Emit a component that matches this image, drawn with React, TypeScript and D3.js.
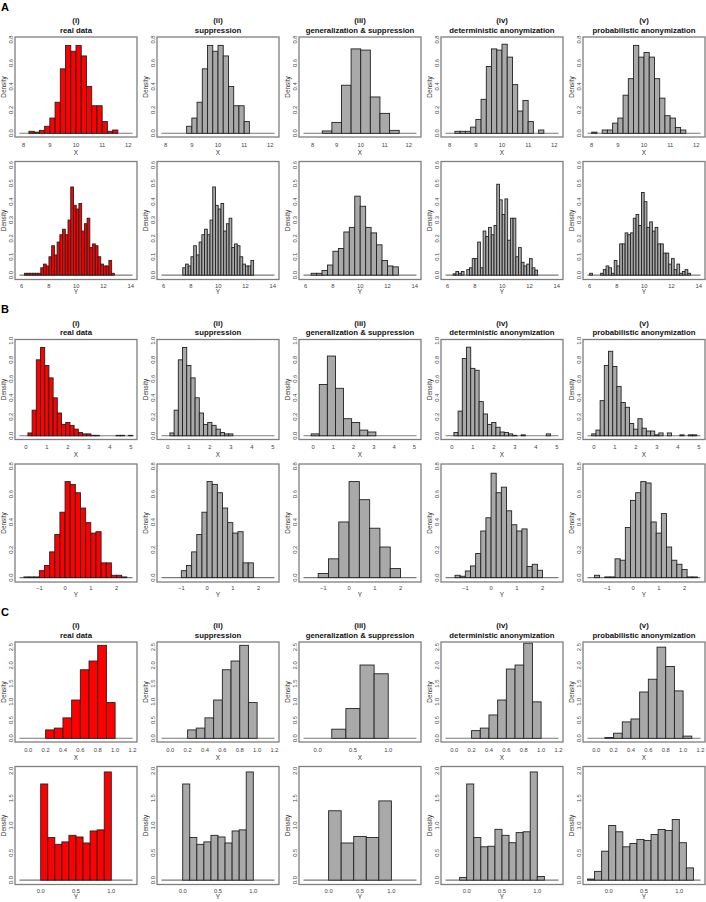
import React from "react";
import * as d3 from "d3";

// column headers
const numerals = ["(i)", "(ii)", "(iii)", "(iv)", "(v)"];
const methods = [
  "real data",
  "suppression",
  "generalization & suppression",
  "deterministic anonymization",
  "probabilistic anonymization",
];

// ---------- A : X ----------
const aXTicks = [8, 9, 10, 11, 12];
const aXLim = [7.84, 12.16];
const aXGenLim = [7.62, 12.32];
const aXDensTicks = [0, 0.2, 0.4, 0.6, 0.8];
const aXDensMax = 0.79;
const aXStart = [8.2, 8.8, 8.4, 8.2, 8.0];
const aXWidth = [0.2, 0.2, 0.4, 0.2, 0.2];
const aXReal = [0.017, 0.01, 0.025, 0.06, 0.13, 0.265, 0.55, 0.75, 0.7, 0.75, 0.66, 0.4, 0.235, 0.235, 0.1, 0.017, 0.028];
const aXSupp = [0.06, 0.13, 0.265, 0.55, 0.75, 0.7, 0.75, 0.66, 0.4, 0.235, 0.235, 0.1];
const aXGen = [0.02, 0.093, 0.41, 0.72, 0.71, 0.31, 0.17, 0.025];
const aXDet = [0.017, 0.017, 0.017, 0.053, 0.118, 0.29, 0.57, 0.72, 0.71, 0.76, 0.65, 0.415, 0.19, 0.28, 0.1, 0, 0.028];
const aXProb = [0.01, 0, 0.028, 0.028, 0.087, 0.13, 0.325, 0.466, 0.75, 0.65, 0.69, 0.65, 0.466, 0.3, 0.15, 0.13, 0.05, 0.028];

// ---------- A : Y ----------
const aYTicks = [6, 8, 10, 12, 14];
const aYLim = [5.84, 14.13];
const aYGenLim = [5.84, 14.13];
const aYDensTicks = [0, 0.1, 0.2, 0.3, 0.4, 0.5, 0.6];
const aYDensMax = 0.595;
const aYStart = [6.2, 7.4, 6.4, 6.4, 6.0];
const aYWidth = [0.2, 0.2, 0.4, 0.2, 0.2];
const aYReal = [0.01, 0.01, 0.01, 0.01, 0.01, 0.01, 0.04, 0.06, 0.05, 0.1, 0.16, 0.11, 0.18, 0.22, 0.25, 0.22, 0.3, 0.48, 0.38, 0.36, 0.39, 0.24, 0.28, 0.31, 0.15, 0.17, 0.16, 0.1, 0.06, 0.05, 0.05, 0.08, 0.01];
const aYSupp = [0.04, 0.06, 0.05, 0.1, 0.16, 0.11, 0.18, 0.22, 0.25, 0.22, 0.3, 0.48, 0.38, 0.36, 0.39, 0.24, 0.28, 0.31, 0.15, 0.17, 0.16, 0.1, 0.06, 0.05, 0.05, 0.08];
const aYGen = [0.01, 0.01, 0.025, 0.055, 0.13, 0.145, 0.235, 0.26, 0.43, 0.375, 0.26, 0.23, 0.165, 0.08, 0.05, 0.045];
const aYDet = [0.007, 0.02, 0.01, 0.02, 0, 0.03, 0.04, 0.09, 0.09, 0.18, 0.04, 0.24, 0.21, 0.26, 0.22, 0.27, 0.495, 0.41, 0.33, 0.415, 0.19, 0.31, 0.31, 0.1, 0.15, 0.07, 0.05, 0.06, 0.09, 0.04, 0.027];
const aYProb = [0.01, 0, 0, 0, 0.01, 0.03, 0.05, 0.04, 0.01, 0.08, 0.05, 0.17, 0.17, 0.23, 0.22, 0.23, 0.31, 0.33, 0.27, 0.45, 0.4, 0.26, 0.29, 0.24, 0.26, 0.17, 0.17, 0.12, 0.12, 0.06, 0.09, 0.03, 0.06, 0.01, 0.02, 0.03, 0.01];

// ---------- B : X ----------
const bXTicks = [0, 1, 2, 3, 4, 5];
const bXLim = [-0.3, 5.08];
const bXGenLim = [-0.48, 5.11];
const bXDensTicks = [0, 0.2, 0.4, 0.6, 0.8, 1.0];
const bXDensMax = 0.975;
const bXStart = [0.1, 0.1, -0.1, 0.1, -0.1];
const bXWidth = [0.2, 0.2, 0.4, 0.2, 0.2];
const bXReal = [0.03, 0.27, 0.8, 0.93, 0.74, 0.61, 0.4, 0.24, 0.12, 0.14, 0.11, 0.07, 0.035, 0.02, 0.02, 0.005, 0.005, 0, 0, 0, 0, 0.005, 0.005, 0, 0.005];
const bXSupp = [0.03, 0.27, 0.8, 0.93, 0.74, 0.61, 0.4, 0.24, 0.12, 0.14, 0.11, 0.07, 0.035, 0.02, 0.02];
const bXGen = [0.02, 0.54, 0.84, 0.5, 0.18, 0.14, 0.06, 0.04];
const bXDet = [0.035, 0.26, 0.815, 0.933, 0.71, 0.69, 0.36, 0.23, 0.12, 0.14, 0.09, 0.04, 0.035, 0.02, 0.005, 0, 0.01, 0, 0, 0, 0, 0, 0.02];
const bXProb = [0.02, 0.06, 0.37, 0.74, 0.89, 0.73, 0.52, 0.35, 0.3, 0.13, 0.07, 0.18, 0.08, 0.05, 0.05, 0.01, 0.03, 0, 0.03, 0, 0, 0.01, 0, 0.01, 0.01];

// ---------- B : Y ----------
const bYTicks = [-1, 0, 1, 2];
const bYLim = [-1.77, 2.62];
const bYGenLim = [-1.77, 2.62];
const bYDensTicks = [0, 0.2, 0.4, 0.6, 0.8];
const bYDensMax = 0.785;
const bYStart = [-1.6, -1.0, -1.2, -1.4, -1.5];
const bYWidth = [0.2, 0.2, 0.4, 0.2, 0.2];
const bYReal = [0.005, 0.005, 0.005, 0.05, 0.087, 0.185, 0.31, 0.47, 0.69, 0.67, 0.61, 0.5, 0.395, 0.32, 0.33, 0.106, 0.106, 0.017, 0.017, 0.005];
const bYSupp = [0.05, 0.087, 0.185, 0.31, 0.47, 0.69, 0.67, 0.61, 0.5, 0.395, 0.32, 0.33, 0.106, 0.106];
const bYGen = [0.03, 0.135, 0.4, 0.69, 0.56, 0.355, 0.22, 0.065];
const bYDet = [0.017, 0.01, 0.048, 0.084, 0.173, 0.335, 0.43, 0.75, 0.61, 0.65, 0.48, 0.38, 0.335, 0.35, 0.08, 0.096, 0.053];
const bYProb = [0.017, 0, 0.005, 0.005, 0.135, 0.125, 0.36, 0.555, 0.61, 0.69, 0.68, 0.4, 0.32, 0.46, 0.22, 0.125, 0.096, 0.058, 0.005, 0.005];

// ---------- C : X ----------
const cXTicks = [0, 0.2, 0.4, 0.6, 0.8, 1.0, 1.2];
const cXGenTicks = [0, 0.5, 1.0];
const cXLim = [-0.1, 1.2];
const cXGenLim = [-0.2, 1.4];
const cXDensTicks = [0, 0.5, 1.0, 1.5, 2.0, 2.5];
const cXDensMax = 2.54;
const cXStart = [0.2, 0.2, 0.2, 0.2, 0.1];
const cXWidth = [0.1, 0.1, 0.2, 0.1, 0.1];
const cXReal = [0.23, 0.28, 0.56, 1.05, 1.88, 2.12, 2.55, 0.98];
const cXSupp = [0.23, 0.28, 0.56, 1.05, 1.88, 2.12, 2.55, 0.98];
const cXGen = [0.25, 0.815, 2.01, 1.77];
const cXDet = [0.21, 0.28, 0.64, 1.05, 1.9, 2.01, 2.61, 1.0];
const cXProb = [0.02, 0.14, 0.45, 0.53, 1.27, 1.62, 2.5, 1.97, 1.3, 0.06];

// ---------- C : Y ----------
const cYTicks = [0, 0.5, 1.0];
const cYLim = [-0.3, 1.3];
const cYGenLim = [-0.4, 1.4];
const cYDensTicks = [0, 0.5, 1.0, 1.5, 2.0];
const cYDensMax = 2.0;
const cYStart = [0, 0, 0, -0.1, -0.3];
const cYWidth = [0.1, 0.1, 0.2, 0.1, 0.1];
const cYReal = [1.76, 0.78, 0.655, 0.7, 0.82, 0.79, 0.68, 0.9, 0.92, 1.98];
const cYSupp = [1.76, 0.78, 0.655, 0.7, 0.82, 0.79, 0.68, 0.9, 0.92, 1.98];
const cYGen = [1.27, 0.68, 0.8, 0.78, 1.45];
const cYDet = [0.05, 1.76, 0.78, 0.61, 0.62, 0.93, 0.82, 0.685, 0.87, 0.885, 1.98, 0.067];
const cYProb = [0.02, 0.16, 0.53, 1.0, 0.885, 0.61, 0.67, 0.745, 0.727, 0.836, 0.927, 0.91, 1.11, 0.685, 0.224];

const rows = [
  { sec: 0, r: 0, label: "X", xlim: aXLim, genXlim: aXGenLim, xTicks: aXTicks, genXTicks: aXTicks, xFmt: "d", yTicks: aXDensTicks, yMax: aXDensMax, starts: aXStart, widths: aXWidth, dens: [aXReal, aXSupp, aXGen, aXDet, aXProb] },
  { sec: 0, r: 1, label: "Y", xlim: aYLim, genXlim: aYGenLim, xTicks: aYTicks, genXTicks: aYTicks, xFmt: "d", yTicks: aYDensTicks, yMax: aYDensMax, starts: aYStart, widths: aYWidth, dens: [aYReal, aYSupp, aYGen, aYDet, aYProb] },
  { sec: 1, r: 0, label: "X", xlim: bXLim, genXlim: bXGenLim, xTicks: bXTicks, genXTicks: bXTicks, xFmt: "d", yTicks: bXDensTicks, yMax: bXDensMax, starts: bXStart, widths: bXWidth, dens: [bXReal, bXSupp, bXGen, bXDet, bXProb] },
  { sec: 1, r: 1, label: "Y", xlim: bYLim, genXlim: bYGenLim, xTicks: bYTicks, genXTicks: bYTicks, xFmt: "d", yTicks: bYDensTicks, yMax: bYDensMax, starts: bYStart, widths: bYWidth, dens: [bYReal, bYSupp, bYGen, bYDet, bYProb] },
  { sec: 2, r: 0, label: "X", xlim: cXLim, genXlim: cXGenLim, xTicks: cXTicks, genXTicks: cXGenTicks, xFmt: ".1f", yTicks: cXDensTicks, yMax: cXDensMax, starts: cXStart, widths: cXWidth, dens: [cXReal, cXSupp, cXGen, cXDet, cXProb] },
  { sec: 2, r: 1, label: "Y", xlim: cYLim, genXlim: cYGenLim, xTicks: cYTicks, genXTicks: cYTicks, xFmt: ".1f", yTicks: cYDensTicks, yMax: cYDensMax, starts: cYStart, widths: cYWidth, dens: [cYReal, cYSupp, cYGen, cYDet, cYProb] },
];

// layout
const W = 706;
const H = 902;
const sectionTop = [0, 302.5, 605];
const boxW = 122;
const colStep = 142;
const firstLeft = 15;
const rowBox = [
  { top: 37, bottom: 137, tickBase: 146.5, labelBase: 154.5 },
  { top: 161.5, bottom: 279.5, tickBase: 287.5, labelBase: 294 },
];

const FONT = "'Liberation Sans', Arial, Helvetica, sans-serif";
const RED = "#ff0000";
const GREY = "#a9a9a9";

function Panel({ row, col }) {
  const s = sectionTop[row.sec];
  const g = rowBox[row.r];
  const top = s + g.top;
  const bottom = s + g.bottom;
  const left = firstLeft + col * colStep;
  const right = left + boxW;
  const lim = col === 2 ? row.genXlim : row.xlim;
  const pad = (lim[1] - lim[0]) * 0.04;
  const x = d3.scaleLinear().domain([lim[0] - pad, lim[1] + pad]).range([left, right]);
  const y = d3
    .scaleLinear()
    .domain([-0.04 * row.yMax, 1.04 * row.yMax])
    .range([bottom, top]);
  const dens = row.dens[col];
  const start = row.starts[col];
  const w = row.widths[col];
  const ticks = col === 2 ? row.genXTicks : row.xTicks;
  const xf = d3.format(row.xFmt);
  const yf = d3.format(".1f");
  const midY = (top + bottom) / 2;

  return (
    <g>
      <line x1={x(lim[0])} x2={x(lim[1])} y1={y(0)} y2={y(0)} stroke="#7a7a7a" strokeWidth={1.1} />
      {dens.map((d, i) => {
        if (!d) return null;
        const x0 = x(start + i * w);
        const x1 = x(start + (i + 1) * w);
        return (
          <rect
            key={i}
            x={x0}
            y={y(d)}
            width={x1 - x0}
            height={y(0) - y(d)}
            fill={col === 0 ? RED : GREY}
            stroke="#222"
            strokeWidth={0.9}
          />
        );
      })}
      <rect x={left} y={top} width={boxW} height={bottom - top} fill="none" stroke="#7f7f7f" strokeWidth={1.3} />
      {row.yTicks.map((t) => (
        <text
          key={t}
          transform={`translate(${left - 2},${y(t)}) rotate(-90)`}
          textAnchor="middle"
          fontSize={5.8}
          fill="#444"
          fontFamily={FONT}
        >
          {yf(t)}
        </text>
      ))}
      <text
        transform={`translate(${left - 9.5},${midY}) rotate(-90)`}
        textAnchor="middle"
        fontSize={6.4}
        fill="#333"
        fontFamily={FONT}
      >
        Density
      </text>
      {ticks.map((t) => (
        <text key={t} x={x(t)} y={s + g.tickBase} textAnchor="middle" fontSize={5.8} fill="#444" fontFamily={FONT}>
          {xf(t)}
        </text>
      ))}
      <text x={(left + right) / 2} y={s + g.labelBase} textAnchor="middle" fontSize={6.4} fill="#333" fontFamily={FONT}>
        {row.label}
      </text>
    </g>
  );
}

export default function App() {
  return (
    <svg
      width={W}
      height={H}
      viewBox={`0 0 ${W} ${H}`}
      style={{ position: "absolute", left: 0, top: 0, background: "#fff" }}
    >
      <rect width={W} height={H} fill="#fff" />
      {["A", "B", "C"].map((L, si) => (
        <g key={L}>
          <text x={1} y={sectionTop[si] + 10.5} fontSize={11} fontWeight="bold" fontFamily={FONT} fill="#000">
            {L}
          </text>
          {numerals.map((n, c) => {
            const cx = firstLeft + c * colStep + boxW / 2;
            return (
              <g key={n}>
                <text x={cx} y={sectionTop[si] + 23} textAnchor="middle" fontSize={7.8} fontWeight="bold" fontFamily={FONT} fill="#111">
                  {n}
                </text>
                <text x={cx} y={sectionTop[si] + 32.5} textAnchor="middle" fontSize={7.8} fontWeight="bold" fontFamily={FONT} fill="#111">
                  {methods[c]}
                </text>
              </g>
            );
          })}
        </g>
      ))}
      {rows.map((row, ri) => (
        <g key={ri}>
          {[0, 1, 2, 3, 4].map((c) => (
            <Panel key={c} row={row} col={c} />
          ))}
        </g>
      ))}
    </svg>
  );
}
